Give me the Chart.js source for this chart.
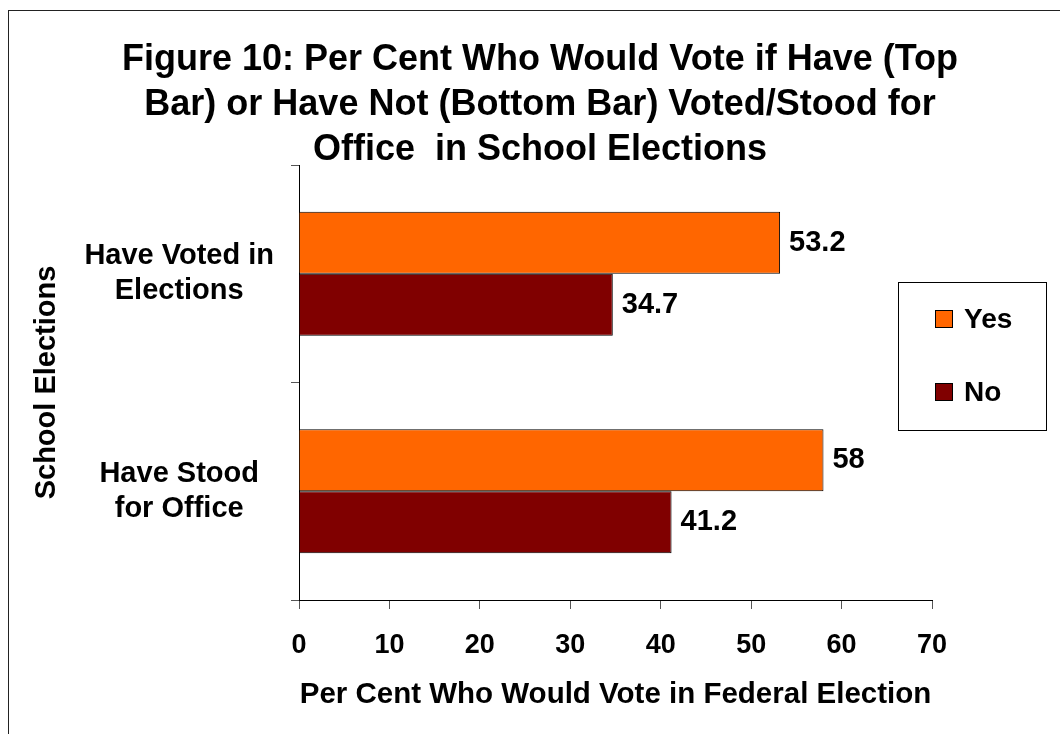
<!DOCTYPE html>
<html lang="en">
<head>
  <meta charset="UTF-8" />
  <title>Figure 10</title>
  <script src="https://cdn.jsdelivr.net/npm/chart.js@4.4.0/dist/chart.umd.min.js"></script>
  <style>
body {
  margin: 0; background: #fff; overflow: hidden;
  font-family: "Liberation Sans", Arial, sans-serif;
}
.wrap { position: relative; width: 1060px; height: 734px; overflow: hidden; }
.frame {
  position: absolute; left: 8px; top: 10px; width: 1200px; height: 900px;
  border-left: 1px solid #222; border-top: 1px solid #222;
}
h1 {
  position: absolute; left: 20px; width: 1040px; top: 35px; margin: 0;
  text-align: center; font-size: 36px; line-height: 45px; font-weight: bold;
  color: #000; white-space: pre;
}
#chart { position: absolute; left: 0; top: 0; }
  </style>
</head>
<body>
<div class="wrap">
  <div class="frame"></div>
  <canvas id="chart" width="1060" height="734"></canvas>
  <h1>Figure 10: Per Cent Who Would Vote if Have (Top
Bar) or Have Not (Bottom Bar) Voted/Stood for
Office  in School Elections</h1>
</div>

<script>
const categories = [['Have Voted in', 'Elections'], ['Have Stood', 'for Office']];
const seriesNames = ['Yes', 'No'];
const yesValues = [53.2, 58];
const noValues = [34.7, 41.2];
const seriesColors = ['#FF6600', '#800000'];

const FONT = '"Liberation Sans", Arial, sans-serif';
Chart.defaults.font.family = FONT;
Chart.defaults.color = '#000';

// value printed just past the end of each bar
const barValues = {
  id: 'barValues',
  afterDatasetsDraw(chart) {
    const ctx = chart.ctx;
    ctx.save();
    ctx.font = 'bold 29px ' + FONT;
    ctx.fillStyle = '#000';
    ctx.textAlign = 'left';
    ctx.textBaseline = 'middle';
    chart.data.datasets.forEach((ds, i) => {
      chart.getDatasetMeta(i).data.forEach((bar, j) => {
        ctx.fillText(String(ds.data[j]), bar.x + 9, bar.y);
      });
    });
    ctx.restore();
  }
};

// boxed legend on the right hand side
const boxLegend = {
  id: 'boxLegend',
  afterDraw(chart) {
    const ctx = chart.ctx;
    ctx.save();
    ctx.strokeStyle = '#000';
    ctx.lineWidth = 1;
    ctx.strokeRect(898.5, 282.5, 148, 148);
    ctx.font = 'bold 28px ' + FONT;
    ctx.textBaseline = 'middle';
    chart.data.datasets.forEach((ds, i) => {
      const y = 310 + i * 73;
      ctx.fillStyle = ds.backgroundColor;
      ctx.fillRect(935, y, 18, 18);
      ctx.strokeRect(935.5, y + 0.5, 17, 17);
      ctx.fillStyle = '#000';
      ctx.fillText(ds.label, 964, y + 10);
    });
    ctx.restore();
  }
};

new Chart(document.getElementById('chart'), {
  type: 'bar',
  data: {
    labels: categories,
    datasets: [
      { label: seriesNames[0], data: yesValues, backgroundColor: seriesColors[0] },
      { label: seriesNames[1], data: noValues, backgroundColor: seriesColors[1] }
    ]
  },
  options: {
    indexAxis: 'y',
    responsive: false,
    animation: false,
    devicePixelRatio: 1,
    layout: { padding: { left: 0, right: 128, top: 165, bottom: 0 } },
    datasets: {
      bar: { borderColor: '#000', borderWidth: 1, categoryPercentage: 0.57, barPercentage: 1 }
    },
    plugins: { legend: { display: false }, tooltip: { enabled: false } },
    scales: {
      x: {
        min: 0, max: 70,
        ticks: { stepSize: 10, padding: 20, font: { size: 27, weight: 'bold' } },
        grid: { drawOnChartArea: false, tickLength: 9, color: '#555' },
        border: { color: '#000', width: 1 },
        title: {
          display: true, text: 'Per Cent Who Would Vote in Federal Election',
          font: { size: 29.5, weight: 'bold' }, padding: { top: 0, bottom: 21 }
        },
        afterFit(scale) { scale.height = 134; }
      },
      y: {
        ticks: {
          crossAlign: 'center', padding: 17,
          font: { size: 29, weight: 'bold', lineHeight: 1.19 }
        },
        grid: { drawOnChartArea: false, tickLength: 8, color: '#555' },
        border: { color: '#000', width: 1 },
        title: {
          display: true, text: 'School Elections',
          font: { size: 29, weight: 'bold' }, padding: { top: 30, bottom: 0 }
        },
        afterFit(scale) { scale.width = 299; }
      }
    }
  },
  plugins: [barValues, boxLegend]
});
</script>
</body>
</html>
